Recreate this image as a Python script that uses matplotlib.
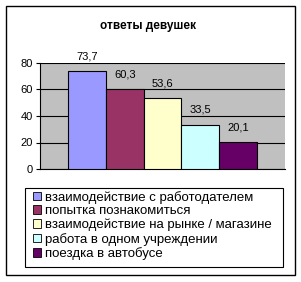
import matplotlib.pyplot as plt
from matplotlib.patches import Rectangle

# data
categories = ['взаимодействие с работодателем', 'попытка познакомиться',
              'взаимодействие на рынке / магазине', 'работа в одном учреждении',
              'поездка в автобусе']
values = [73.7, 60.3, 53.6, 33.5, 20.1]
colors = ['#9999FF', '#993366', '#FFFFCC', '#CCFFFF', '#660066']
yticks = [0, 20, 40, 60, 80]

plt.rcParams['font.family'] = ['Liberation Sans', 'DejaVu Sans']

W, H = 301, 282
fig = plt.figure(figsize=(W / 100, H / 100), dpi=100)

# outer chart border
fig.patches.append(Rectangle((6 / W, 7 / H), 289 / W, 269 / H, transform=fig.transFigure,
                             facecolor='none', edgecolor='black', lw=1))
# legend border
fig.patches.append(Rectangle((25 / W, 1 - 267 / H), 258 / W, 79 / H, transform=fig.transFigure,
                             facecolor='white', edgecolor='black', lw=0.8))

ax = fig.add_axes([40 / W, 113 / H, 245 / W, 106 / H])
ax.set_facecolor('#C0C0C0')

xs = range(len(values))
bars = ax.bar(xs, values, width=1.0, color=colors, edgecolor='black', linewidth=0.8, zorder=3)
ax.bar_label(bars, labels=[f'{v}'.replace('.', ',') for v in values], padding=7, fontsize=8)

ax.set_xlim(-1.25, 5.25)
ax.set_ylim(0, 80)
ax.set_yticks(yticks)
ax.tick_params(axis='y', labelsize=8, length=3, width=0.8, pad=2)
ax.set_xticks([])
ax.yaxis.grid(True, color='black', lw=0.8, zorder=0)
ax.set_axisbelow(True)
for side in ['top', 'right']:
    ax.spines[side].set_visible(False)
ax.spines['left'].set_linewidth(0.8)
ax.spines['bottom'].set_linewidth(0.8)

fig.text(148 / W, 1 - 26 / H, 'ответы девушек', ha='center', va='center',
         fontsize=8.5, fontweight='bold')

handles = [Rectangle((0, 0), 1, 1, facecolor=c, edgecolor='black', lw=0.6) for c in colors]
leg = fig.legend(handles, categories, loc='upper left',
                 bbox_to_anchor=(30 / W, 1 - 188 / H), fontsize=9.5,
                 handlelength=0.6, handleheight=0.6, handletextpad=0.35,
                 labelspacing=0.12, borderpad=0.2, borderaxespad=0, frameon=False)

fig.savefig('out.png', dpi=100)
